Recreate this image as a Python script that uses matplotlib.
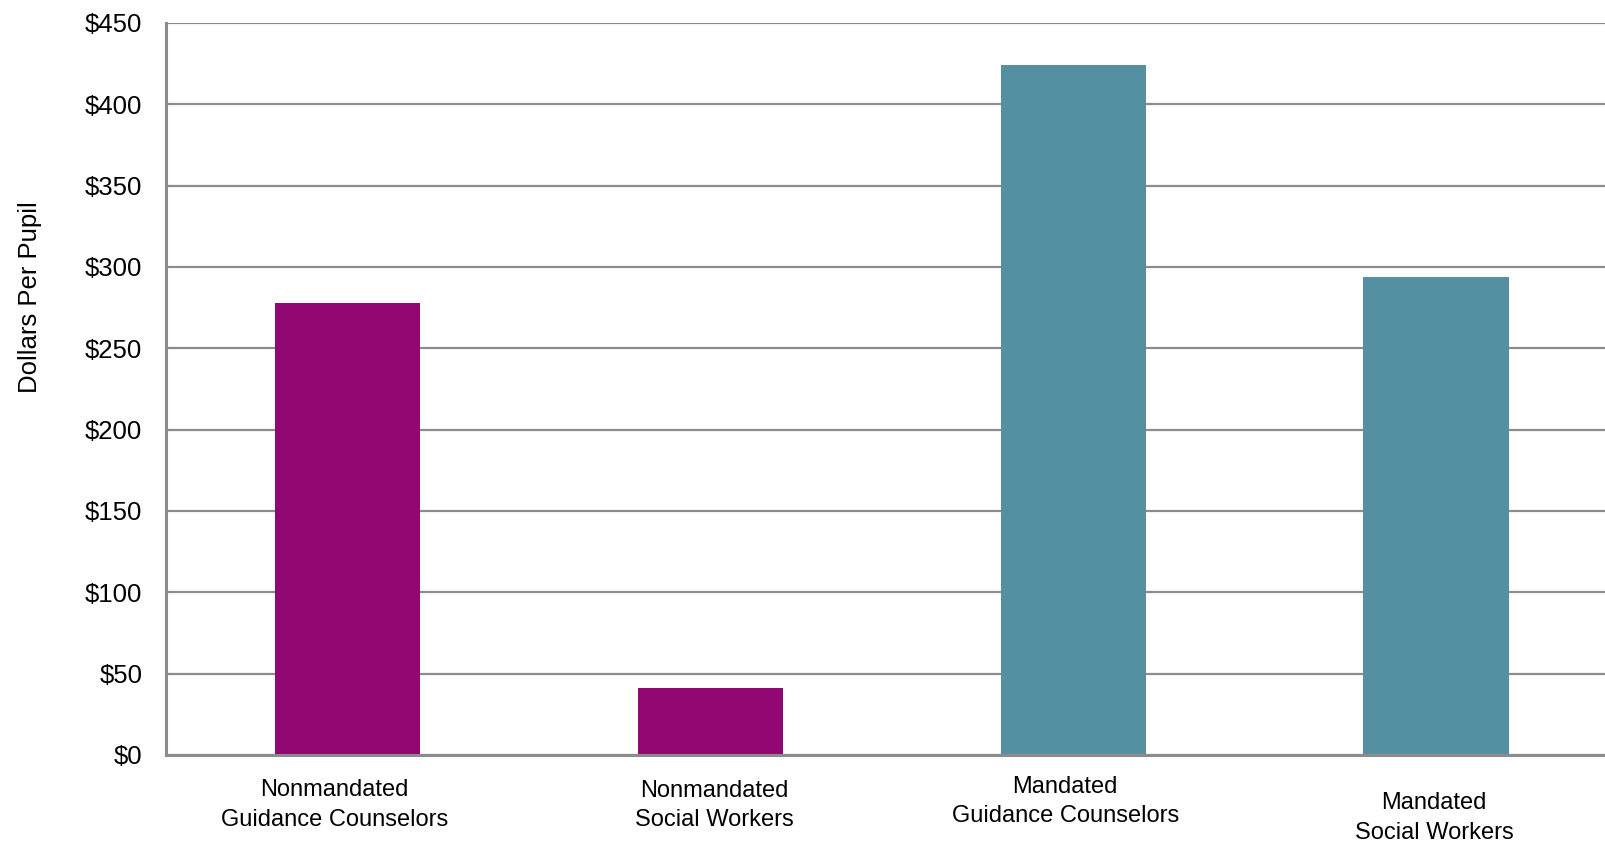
import matplotlib
matplotlib.use("Agg")
import matplotlib.pyplot as plt
import matplotlib.transforms as mtransforms

plt.rcParams["font.family"] = ["Liberation Sans", "DejaVu Sans"]

categories = [
    "Nonmandated\nGuidance Counselors",
    "Nonmandated\nSocial Workers",
    "Mandated\nGuidance Counselors",
    "Mandated\nSocial Workers",
]
values = [278, 41, 424, 294]
colors = ["#910873", "#910873", "#5590A2", "#5590A2"]
yticks = [0, 50, 100, 150, 200, 250, 300, 350, 400, 450]
ytick_labels = [f"${v}" for v in yticks]

W, H = 1606, 842
fig = plt.figure(figsize=(W / 100, H / 100), dpi=100)
ax = fig.add_axes([166 / W, 1 - 755 / H, (1617.5 - 166) / W, (755 - 23) / H])

x = range(len(categories))
ax.bar(x, values, width=0.4, color=colors, zorder=3)

ax.set_xlim(-0.5, len(categories) - 0.5)
ax.set_ylim(0, 450)
ax.set_yticks(yticks)
ax.set_yticklabels(ytick_labels, fontsize=18.5)
ax.tick_params(axis="y", length=0, pad=17)
ax.set_xticks([])

grid_color = "#8c8c8c"
ax.grid(axis="y", color=grid_color, linewidth=1.6, zorder=1)
for side in ("top", "right"):
    ax.spines[side].set_visible(False)
for side in ("left", "bottom"):
    ax.spines[side].set_color(grid_color)
    ax.spines[side].set_linewidth(2.2)
ax.spines["bottom"].set_zorder(4)

# Category labels sit at slightly different places under each bar
label_centers_px = [805, 805.5, 801.5, 818]
label_dx_px = [-13, 4, -8, -2]
base = mtransforms.blended_transform_factory(ax.transData, fig.transFigure)
for i, (lab, yc, dx) in enumerate(zip(categories, label_centers_px, label_dx_px)):
    tr = base + mtransforms.Affine2D().translate(dx, 0)
    ax.text(i, 1 - yc / H, lab, transform=tr, ha="center", va="center",
            fontsize=17, linespacing=1.45, clip_on=False)

fig.text(30 / W, 1 - 297.5 / H, "Dollars Per Pupil", rotation=90,
         ha="center", va="center", fontsize=18.5)

fig.savefig("out.png", dpi=100)
